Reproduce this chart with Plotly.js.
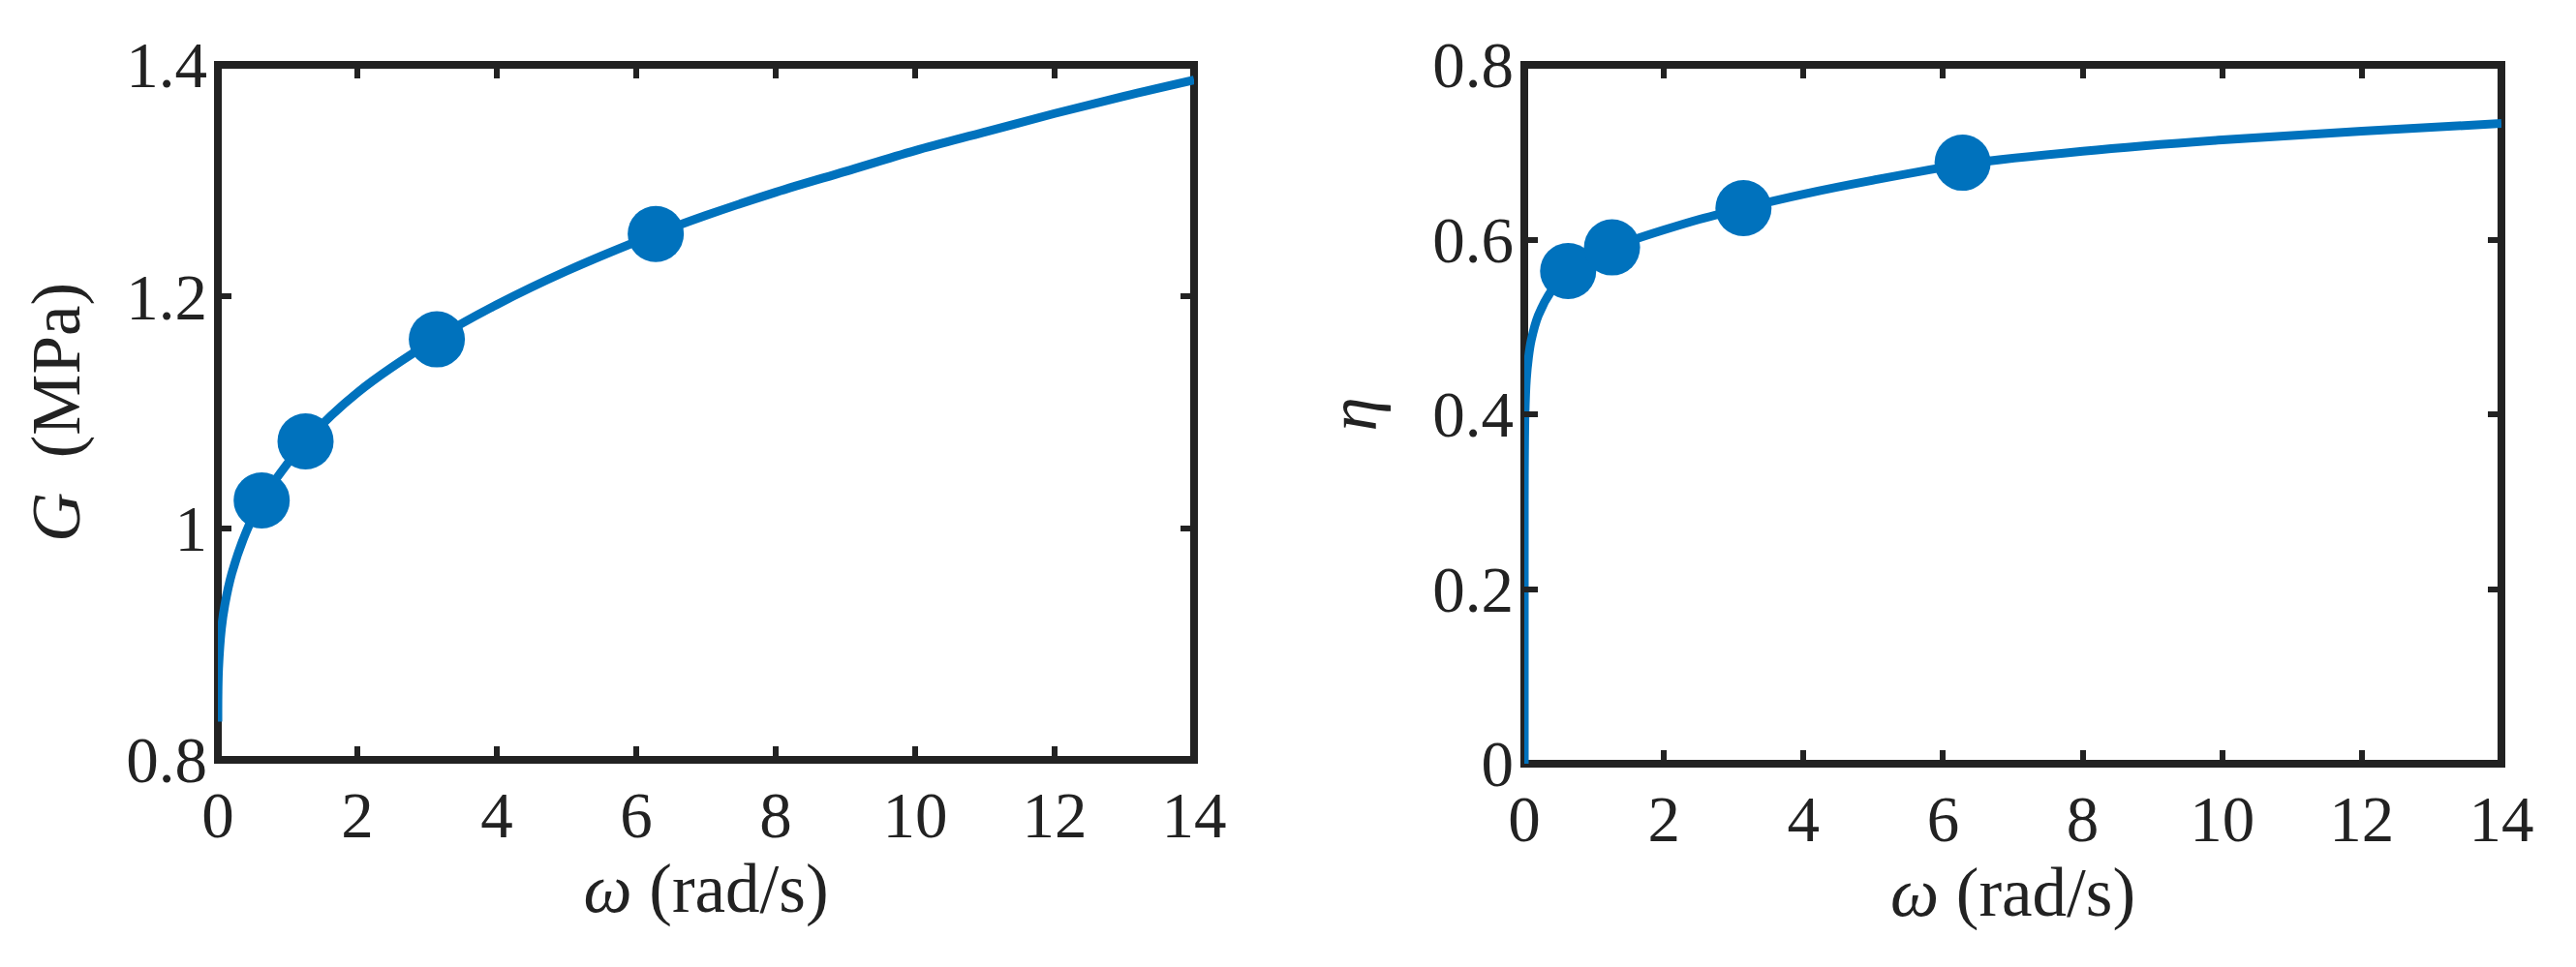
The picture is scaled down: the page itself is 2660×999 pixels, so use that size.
<!DOCTYPE html>
<html>
<head>
<meta charset="utf-8">
<script src="https://cdn.plot.ly/plotly-3.0.1.min.js"></script>
<style>html,body{margin:0;padding:0;background:#fff;}#chart{width:2660px;height:999px;}</style>
</head>
<body>
<div id="chart"></div>
<script>
// Storage modulus curve
const omegaG = [0, 0.001, 0.01, 0.05, 0.1, 0.2, 0.4, 0.628, 1, 1.257, 2, 3.14, 4, 5, 6.28, 7, 8, 9, 10, 11, 12, 13, 14];
const G = [0.833, 0.855, 0.879, 0.913, 0.934, 0.961, 0.996, 1.024, 1.056, 1.075, 1.117, 1.164, 1.193, 1.222, 1.254, 1.270, 1.290, 1.308, 1.326, 1.342, 1.358, 1.373, 1.387];
// Loss factor curve
const omegaEta = [0, 0.00001, 0.0001, 0.001, 0.01, 0.03, 0.06, 0.1, 0.2, 0.4, 0.628, 1, 1.257, 1.5, 2, 2.5, 3.14, 4, 5, 6.28, 8, 10, 12, 14];
const eta = [0, 0.22, 0.27, 0.33, 0.40, 0.44, 0.465, 0.485, 0.513, 0.543, 0.564, 0.582, 0.591, 0.598, 0.611, 0.623, 0.636, 0.652, 0.668, 0.686, 0.701, 0.714, 0.724, 0.733];
// Measured points
const omegaPts = [0.628, 1.257, 3.14, 6.28];
const GPts = [1.024, 1.075, 1.163, 1.254];
const etaPts = [0.564, 0.591, 0.636, 0.688];
// Tick labels
const xTickVals = [0, 2, 4, 6, 8, 10, 12, 14];
const xTickText = ['0', '2', '4', '6', '8', '10', '12', '14'];
const gTickVals = [0.8, 1.0, 1.2, 1.4];
const gTickText = ['0.8', '1', '1.2', '1.4'];
const etaTickVals = [0, 0.2, 0.4, 0.6, 0.8];
const etaTickText = ['0', '0.2', '0.4', '0.6', '0.8'];

const BLUE = '#0072BD';
const INK = '#222222';
const FONT = {family: 'Liberation Serif, Times New Roman, serif', size: 67, color: INK};
const TITLEFONT = {family: 'Liberation Serif, Times New Roman, serif', size: 71, color: INK};

const traces = [
  {x: omegaG, y: G, mode: 'lines', line: {color: BLUE, width: 9, shape: 'spline', smoothing: 1}, xaxis: 'x', yaxis: 'y', hoverinfo: 'skip'},
  {x: omegaPts, y: GPts, mode: 'markers', marker: {color: BLUE, size: 58}, xaxis: 'x', yaxis: 'y'},
  {x: omegaEta, y: eta, mode: 'lines', line: {color: BLUE, width: 9, shape: 'spline', smoothing: 0.8}, xaxis: 'x2', yaxis: 'y2', hoverinfo: 'skip'},
  {x: omegaPts, y: etaPts, mode: 'markers', marker: {color: BLUE, size: 58}, xaxis: 'x2', yaxis: 'y2'}
];

function xAxis(domain, anchor) {
  return {
    domain: domain, anchor: anchor, range: [0, 14],
    tickvals: xTickVals, ticktext: xTickText,
    ticks: 'inside', ticklen: 14, tickwidth: 6, tickcolor: INK, mirror: 'ticks',
    showgrid: false, zeroline: false, showline: false,
    tickfont: FONT, ticklabelstandoff: 12,
    title: {text: '<i>ω</i> (rad/s)', font: TITLEFONT, standoff: 14}
  };
}
function yAxis(domain, anchor, range, vals, text, title, standoff) {
  return {
    domain: domain, anchor: anchor, range: range,
    tickvals: vals, ticktext: text,
    ticks: 'inside', ticklen: 14, tickwidth: 6, tickcolor: INK, mirror: 'ticks',
    showgrid: false, zeroline: false, showline: false,
    tickfont: FONT, ticklabelstandoff: 10,
    title: {text: title, font: TITLEFONT, standoff: standoff}
  };
}

const frame = (xr, yr) => ({
  type: 'rect', xref: xr + ' domain', yref: yr + ' domain', x0: 0, x1: 1, y0: 0, y1: 1,
  line: {color: INK, width: 8}, layer: 'below'
});

const layout = {
  width: 2660, height: 999,
  margin: {l: 0, r: 0, t: 0, b: 0, autoexpand: false},
  paper_bgcolor: '#ffffff', plot_bgcolor: '#ffffff',
  showlegend: false,
  font: FONT,
  xaxis: xAxis([0.08459, 0.46353], 'y'),
  yaxis: yAxis([0.21421, 0.93293], 'x', [0.8, 1.4], gTickVals, gTickText, '<i>G</i>  (MPa)', 24),
  xaxis2: xAxis([0.59173, 0.97105], 'y2'),
  yaxis2: yAxis([0.21021, 0.93293], 'x2', [0, 0.8], etaTickVals, etaTickText, '<i>η</i>', 34),
  shapes: [frame('x', 'y'), frame('x2', 'y2')]
};

Plotly.newPlot('chart', traces, layout, {displayModeBar: false, staticPlot: true});
</script>
</body>
</html>
